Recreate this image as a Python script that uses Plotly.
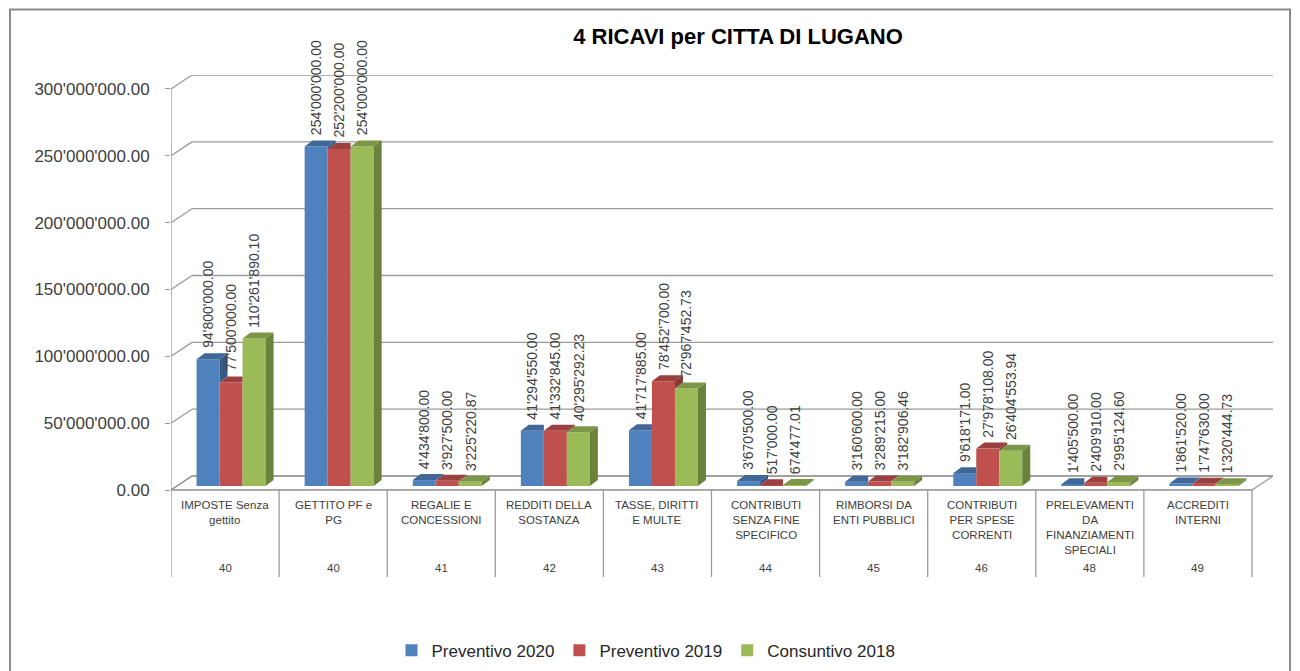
import plotly.graph_objects as go

# ---------------- data ----------------
categories = ["IMPOSTE Senza<br>gettito", "GETTITO PF e<br>PG", "REGALIE E<br>CONCESSIONI",
              "REDDITI DELLA<br>SOSTANZA", "TASSE, DIRITTI<br>E MULTE",
              "CONTRIBUTI<br>SENZA FINE<br>SPECIFICO", "RIMBORSI DA<br>ENTI PUBBLICI",
              "CONTRIBUTI<br>PER SPESE<br>CORRENTI",
              "PRELEVAMENTI<br>DA<br>FINANZIAMENTI<br>SPECIALI", "ACCREDITI<br>INTERNI"]
codes = ["40", "40", "41", "42", "43", "44", "45", "46", "48", "49"]
prev_2020 = [94800000.00, 254000000.00, 4434800.00, 41294550.00, 41717885.00,
             3670500.00, 3160600.00, 9618171.00, 1405500.00, 1861520.00]
prev_2019 = [77500000.00, 252200000.00, 3927500.00, 41332845.00, 78452700.00,
             517000.00, 3289215.00, 27978108.00, 2409910.00, 1747630.00]
cons_2018 = [110261890.10, 254000000.00, 3225220.87, 40295292.23, 72967452.73,
             674477.01, 3182906.46, 26404553.94, 2995124.60, 1320444.73]
series_names = ["Preventivo 2020", "Preventivo 2019", "Consuntivo 2018"]
y_ticks = [0, 50e6, 100e6, 150e6, 200e6, 250e6, 300e6]
title_text = "4 RICAVI per CITTA DI LUGANO"

series = [prev_2020, prev_2019, cons_2018]
front_colors = ["#4F81BD", "#C0504D", "#9BBB59"]
top_colors = ["#3F6797", "#9A403E", "#7C9647"]
side_colors = ["#375A84", "#863836", "#6A823C"]

FONT = "Arial, Liberation Sans, sans-serif"

# ---------------- geometry (layout styling) ----------------
W, H = 1300, 682
L = 171.0
cat_px = 108.1
zero_px = 490.0
top300_px = 88.5
val_per_px = 300e6 / (zero_px - top300_px)
wall_dx_px, wall_dy_px = 21.0, 14.0
bar_dx_px, bar_dy_px = 8.0, 6.0
bar_shift_px, bar_base_px = 6.0, 4.0

ncat = len(categories)
wall_dx = wall_dx_px / cat_px
wall_dy = wall_dy_px * val_per_px
x_range = [-0.5, ncat - 0.5 + wall_dx]
plot_w = (x_range[1] - x_range[0]) * cat_px
R = W - L - plot_w
y_top = 300e6 + wall_dy
T = top300_px - wall_dy_px
plot_h = zero_px - T
B = H - zero_px

bar_w = 23.0 / cat_px
bar_dx = bar_dx_px / cat_px
bar_dy = bar_dy_px * val_per_px
shift = bar_shift_px / cat_px
base = bar_base_px * val_per_px


def pxx(px):
    return (px - L) / plot_w


def pxy(py):
    return (zero_px - py) / plot_h


def fmt(v):
    return f"{v:,.2f}".replace(",", "'")


fig = go.Figure()
shapes = []
annotations = []

# floor
fx0, fx1 = -0.5, ncat - 0.5
shapes.append(dict(type="path", xref="x", yref="y", layer="below",
                   path=f"M{fx0},0 L{fx1},0 L{fx1 + wall_dx},{wall_dy} L{fx0 + wall_dx},{wall_dy} Z",
                   line=dict(color="#9A9A9A", width=1.3), fillcolor="white"))
# back wall gridlines + left wall diagonals
for v in y_ticks:
    shapes.append(dict(type="line", xref="x", yref="y", layer="below",
                       x0=fx0 + wall_dx, x1=fx1 + wall_dx, y0=v + wall_dy, y1=v + wall_dy,
                       line=dict(color="#9A9A9A", width=1.3)))
    shapes.append(dict(type="line", xref="x", yref="y", layer="below",
                       x0=fx0, x1=fx0 + wall_dx, y0=v, y1=v + wall_dy,
                       line=dict(color="#9A9A9A", width=1.3)))
# front left axis line
shapes.append(dict(type="line", xref="x", yref="y", layer="below",
                   x0=fx0, x1=fx0, y0=0, y1=max(y_ticks),
                   line=dict(color="#9A9A9A", width=1.3)))

# bars (front faces)
offsets = [-1.5 * bar_w + k * bar_w for k in range(3)]
for k, vals in enumerate(series):
    fig.add_trace(go.Bar(
        x=[i + shift for i in range(ncat)], y=vals, base=base,
        width=bar_w, offset=offsets[k], name=series_names[k],
        marker=dict(color=front_colors[k], line=dict(width=0)),
        hovertemplate="%{y:,.2f}<extra>" + series_names[k] + "</extra>",
    ))

# 3D top and side faces
for k, vals in enumerate(series):
    xs_top, ys_top, xs_side, ys_side = [], [], [], []
    for i, v in enumerate(vals):
        x0 = i + shift + offsets[k]
        x1 = x0 + bar_w
        y1 = base + v
        nxt = series[k + 1][i] if k + 1 < len(series) else None
        if nxt is not None and nxt >= v:
            xs_top += [x0, x1, x1, x0 + bar_dx, x0, None]
            ys_top += [y1, y1, y1 + bar_dy, y1 + bar_dy, y1, None]
        else:
            xs_top += [x0, x1, x1 + bar_dx, x0 + bar_dx, x0, None]
            ys_top += [y1, y1, y1 + bar_dy, y1 + bar_dy, y1, None]
            lo = base + (nxt if nxt is not None else 0)
            xs_side += [x1, x1, x1 + bar_dx, x1 + bar_dx, x1, None]
            ys_side += [lo, y1, y1 + bar_dy, lo + bar_dy, lo, None]
        annotations.append(dict(
            x=x0 + bar_w / 2, y=y1 + bar_dy, xref="x", yref="y",
            text=fmt(v), textangle=-90, showarrow=False,
            xanchor="center", yanchor="bottom", yshift=3,
            font=dict(family=FONT, size=14, color="#404040")))
    fig.add_trace(go.Scatter(x=xs_side, y=ys_side, mode="lines", fill="toself",
                             fillcolor=side_colors[k], line=dict(width=0, color=side_colors[k]),
                             showlegend=False, hoverinfo="skip"))
    fig.add_trace(go.Scatter(x=xs_top, y=ys_top, mode="lines", fill="toself",
                             fillcolor=top_colors[k], line=dict(width=0, color=top_colors[k]),
                             showlegend=False, hoverinfo="skip"))

# category table
table_bottom = pxy(577)
shapes.append(dict(type="line", xref="x", yref="paper", x0=fx0, x1=fx1, y0=0, y1=0,
                   line=dict(color="#9A9A9A", width=1.3)))
for j in range(ncat + 1):
    shapes.append(dict(type="line", xref="x", yref="paper", x0=fx0 + j, x1=fx0 + j,
                       y0=0, y1=table_bottom, line=dict(color="#9A9A9A", width=1.3)))
for i, (c, code) in enumerate(zip(categories, codes)):
    annotations.append(dict(x=i, y=pxy(497), xref="x", yref="paper", text=c,
                            showarrow=False, xanchor="center", yanchor="top", align="center",
                            font=dict(family=FONT, size=11.5, color="#404040")))
    annotations.append(dict(x=i, y=pxy(568), xref="x", yref="paper", text=code,
                            showarrow=False, xanchor="center", yanchor="middle",
                            font=dict(family=FONT, size=11.5, color="#404040")))

# outer chart border
shapes.append(dict(type="rect", xref="paper", yref="paper", layer="below",
                   x0=pxx(10), x1=pxx(1290), y0=pxy(720), y1=pxy(9),
                   line=dict(color="#8A8A8A", width=2), fillcolor="rgba(0,0,0,0)"))

fig.update_layout(
    width=W, height=H,
    margin=dict(l=L, r=R, t=T, b=B, pad=0),
    paper_bgcolor="white", plot_bgcolor="rgba(0,0,0,0)",
    separators=".'",
    barmode="overlay",
    title=dict(text="<b>" + title_text + "</b>", x=738 / W, xanchor="center",
               y=1 - 36 / H, yanchor="middle", yref="container",
               font=dict(family=FONT, size=22, color="#000000")),
    xaxis=dict(range=x_range, showticklabels=False, showgrid=False, zeroline=False,
               showline=False, ticks="", fixedrange=True),
    yaxis=dict(range=[0, y_top], tickvals=y_ticks, tickformat=",.2f", showgrid=False,
               zeroline=False, showline=False, ticks="outside", ticklen=5,
               tickcolor="#9A9A9A", tickwidth=1.3, ticklabelstandoff=12,
               tickfont=dict(family=FONT, size=17, color="#404040")),
    legend=dict(orientation="h", x=pxx(646), xanchor="center", y=pxy(651), yanchor="middle",
                font=dict(family=FONT, size=17, color="#262626"), itemwidth=30,
                bgcolor="rgba(0,0,0,0)"),
    shapes=shapes, annotations=annotations,
    showlegend=True,
)

fig.write_html(
    "out.html",
    config={"displayModeBar": False, "responsive": False},
    post_script="document.body.style.margin='0';document.body.style.overflow='hidden';",
)
